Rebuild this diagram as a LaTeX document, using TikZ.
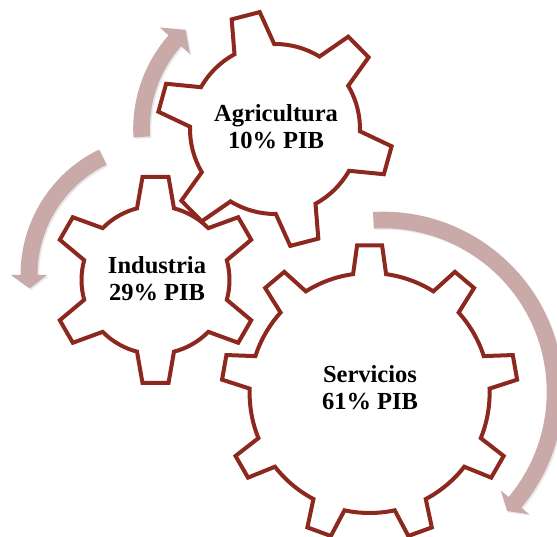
\documentclass[tikz,border=0pt]{standalone}
\usepackage{fontspec}
\setmainfont{Liberation Serif}
\usetikzlibrary{shadows}
\definecolor{gearred}{RGB}{140,40,30}
\definecolor{arrowpink}{RGB}{201,170,168}
\tikzset{
  gearline/.style={draw=gearred,line width=4pt,fill=white,line join=miter,
    drop shadow={opacity=0.25,shadow xshift=1.5pt,shadow yshift=-1.5pt}},
  ringarrow/.style={fill=arrowpink,draw=none,
    drop shadow={opacity=0.18,shadow xshift=1.5pt,shadow yshift=-1.5pt}},
  geartext/.style={font=\bfseries\fontsize{24.5}{26.7}\selectfont,align=center,inner sep=0pt}
}
% centre x, centre y, teeth, first tooth angle, tip radius, body radius, tip half width, base half width
\newcommand{\gear}[8]{%
  \pgfmathsetmacro{\db}{asin(#8/#6)}%
  \pgfmathsetmacro{\dk}{360/#3}%
  \pgfmathsetmacro{\gs}{#4-\db}%
  \draw[gearline] ([shift={(#1,#2)}]\gs:#6)
    \foreach \k [evaluate=\k as \ta using #4+\dk*(\k-1),
                 evaluate=\k as \tb using #4+\dk*(\k-1)+\db,
                 evaluate=\k as \tc using #4+\dk*\k-\db] in {1,...,#3}{
      -- ([shift={(#1,#2)},rotate=\ta]#5,-#7)
      -- ([shift={(#1,#2)},rotate=\ta]#5,#7)
      -- ([shift={(#1,#2)}]\tb:#6)
      arc[start angle=\tb,end angle=\tc,radius=#6]
    } -- cycle;
}
% centre x, centre y, radius, half width, tail angle, head angle, tip angle, head half width
\newcommand{\cyclearrow}[8]{%
  \pgfmathsetmacro{\ro}{#3+#4}%
  \pgfmathsetmacro{\ri}{#3-#4}%
  \pgfmathsetmacro{\ho}{#3+#8}%
  \pgfmathsetmacro{\hi}{#3-#8}%
  \fill[ringarrow] ([shift={(#1,#2)}]#5:\ro)
    arc[start angle=#5,end angle=#6,radius=\ro]
    -- ([shift={(#1,#2)}]#6:\ho) -- ([shift={(#1,#2)}]#7:#3)
    -- ([shift={(#1,#2)}]#6:\hi) -- ([shift={(#1,#2)}]#6:\ri)
    arc[start angle=#6,end angle=#5,radius=\ri] -- cycle;
}

\begin{document}
\begin{tikzpicture}[x=1pt,y=1pt]
  \useasboundingbox (0,0) rectangle (557,537);
  \clip (0,0) rectangle (557,537);
  \cyclearrow{275}{408}{133.5}{8.3}{183.4}{138.6}{132}{20}
  \cyclearrow{160}{262}{131}{8.5}{115.9}{180}{185.9}{18}
  \cyclearrow{383}{145}{172}{8.3}{93.2}{-39.9}{-43.8}{18.5}
  \gear{155.5}{257}{6}{90}{103}{74}{13}{18.5}
  \gear{275}{408}{6}{104.5}{117}{85}{14.5}{20.5}
  \gear{369.6}{144}{9}{90}{147.6}{120}{12.5}{16.5}
  \node[geartext] (agri) at (276,410) {Agricultura\\10\% PIB};
  \node[geartext] (indu) at (157,258) {Industria\\29\% PIB};
  \node[geartext] (serv) at (370,149.6) {Servicios\\61\% PIB};
\end{tikzpicture}
\end{document}
